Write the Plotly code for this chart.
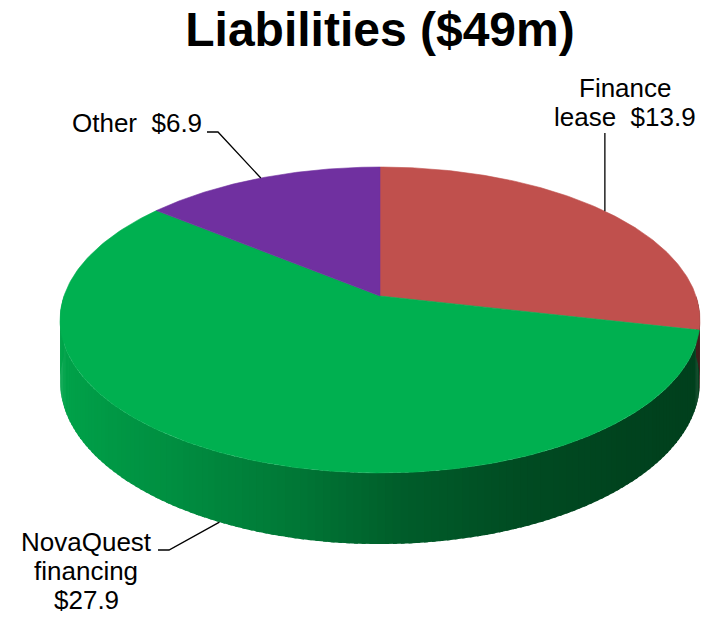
import numpy as np
import plotly.graph_objects as go

# ---------------- data ----------------
title_text = "Liabilities ($49m)"
categories = ["Finance lease", "NovaQuest financing", "Other"]
values = [13.9, 27.9, 6.9]
label_lines = [["Finance", "lease\u00a0 $13.9"],
               ["NovaQuest", "financing", "$27.9"],
               ["Other\u00a0 $6.9"]]
colors = ["#C0504D", "#00B050", "#7030A0"]

# ---------------- style / geometry (pixel space) ----------------
W, Hgt = 704, 617
CX, CY = 380.0, 296.0      # pie apex on screen
RX, RY = 316.0, 149.2      # projected radii
D = 6.38                   # perspective distance
THICK = 60.0               # pie thickness
FONT = "Liberation Sans, Arial, sans-serif"
LABEL_SIZE = 26

# label placement (style): text anchor x, first-line y, line gap, x-anchor, leader path start
label_style = [
    dict(x=625, y=88, gap=29, xanchor="center", lead=[(None, 133)]),
    dict(x=86, y=542, gap=29, xanchor="center", lead=[(158, 550), (169, 550)]),
    dict(x=204, y=123, gap=29, xanchor="right", lead=[(207, 132), (218, 132)]),
]


def proj(phi_deg, depth=0.0):
    p = np.radians(phi_deg)
    u, v = np.cos(p), np.sin(p)
    s = D / (D + v)
    return CX + RX * u * s, CY - RY * v * s + depth * s


def hex_rgb(h):
    h = h.lstrip("#")
    return [int(h[i:i + 2], 16) for i in (0, 2, 4)]


# wall shading factor vs. cos(phi) (left -> right gets darker)
shade_c = [-1.0, -0.57, -0.25, 0.06, 0.38, 0.70, 1.0]
shade_f = [0.94, 0.81, 0.69, 0.53, 0.43, 0.38, 0.36]


def shade(col, c):
    f = np.interp(c, shade_c, shade_f)
    r, g, b = hex_rgb(col)
    return "rgb(%d,%d,%d)" % (r * f, g * f, b * f)


total = float(sum(values))
cum = np.concatenate([[0.0], np.cumsum(values)])
starts = [90.0 - 360.0 * cum[k] / total for k in range(len(values))]
ends = [90.0 - 360.0 * cum[k + 1] / total for k in range(len(values))]

fig = go.Figure()

# ---------- side wall (front half: phi in [-180, 0]) ----------
segments = []
for k in range(len(values)):
    for off in (0.0, -360.0, 360.0):
        hi = min(starts[k] + off, 0.0)
        lo = max(ends[k] + off, -180.0)
        if hi > lo:
            segments.append((lo, hi, k))
segments.sort()
for lo, hi, k in segments:
    n = max(2, int(np.ceil((hi - lo) / 1.2)))
    edges = np.linspace(lo, hi, n + 1)
    for i in range(n):
        p0 = edges[i]
        p1 = min(edges[i + 1] + 0.6, 0.0)
        ph = np.linspace(p0, p1, 4)
        xt, yt = proj(ph)
        xb, yb = proj(ph[::-1], THICK)
        col = shade(colors[k], np.cos(np.radians((edges[i] + edges[i + 1]) / 2)))
        fig.add_trace(go.Scatter(
            x=np.concatenate([xt, xb, xt[:1]]), y=np.concatenate([yt, yb, yt[:1]]),
            mode="lines", fill="toself", fillcolor=col,
            line=dict(width=0), hoverinfo="skip", showlegend=False))

# ---------- top face ----------
for k in range(len(values)):
    ph = np.linspace(starts[k], ends[k], 200)
    xs, ys = proj(ph)
    xs = np.concatenate([[CX], xs, [CX]])
    ys = np.concatenate([[CY], ys, [CY]])
    fig.add_trace(go.Scatter(
        x=xs, y=ys, mode="lines", fill="toself", fillcolor=colors[k],
        line=dict(color=colors[k], width=0.6), hoverinfo="skip",
        name=categories[k], showlegend=False))

# ---------- labels + leader lines ----------
annotations = []
for k in range(len(values)):
    mid = (starts[k] + ends[k]) / 2.0
    front = np.sin(np.radians(mid)) < 0
    ax, ay = proj(mid, THICK if front else 0.0)
    st = label_style[k]
    pts = [((ax if px is None else px), py) for px, py in st["lead"]] + [(ax, ay)]
    fig.add_trace(go.Scatter(
        x=[p[0] for p in pts], y=[p[1] for p in pts], mode="lines",
        line=dict(color="black", width=1.3), hoverinfo="skip", showlegend=False))
    for j, line in enumerate(label_lines[k]):
        annotations.append(dict(
            x=st["x"], y=st["y"] + j * st["gap"], xref="x", yref="y",
            text=line, showarrow=False, xanchor=st["xanchor"], yanchor="middle",
            font=dict(family=FONT, size=LABEL_SIZE, color="black")))

fig.update_layout(
    width=W, height=Hgt,
    margin=dict(l=0, r=0, t=0, b=0),
    paper_bgcolor="white", plot_bgcolor="white",
    title=dict(text="<b>%s</b>" % title_text, x=380 / W, xanchor="center",
               y=1 - 29 / Hgt, yanchor="middle",
               font=dict(family=FONT, size=48, color="black")),
    xaxis=dict(range=[0, W], visible=False, fixedrange=True),
    yaxis=dict(range=[Hgt, 0], visible=False, fixedrange=True),
    annotations=annotations,
    showlegend=False,
)

fig.write_html("out.html", config={"displayModeBar": False},
               post_script="document.body.style.margin='0';document.body.style.overflow='hidden';")
